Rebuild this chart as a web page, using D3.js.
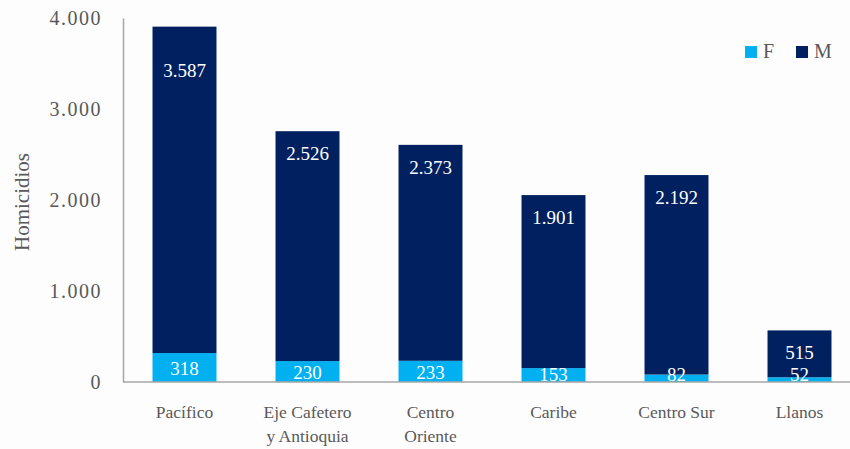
<!DOCTYPE html>
<html>
<head>
<meta charset="utf-8">
<script src="https://cdn.jsdelivr.net/npm/d3@7"></script>
<style>
  html, body { margin: 0; padding: 0; background: #fdfdfd; }
  svg { display: block; }
  text { font-family: "Liberation Serif", "Times New Roman", serif; }
</style>
</head>
<body>
<svg id="chart" width="850" height="449"></svg>
<script>
const categories = ["Pacífico", "Eje Cafetero\ny Antioquia", "Centro\nOriente", "Caribe", "Centro Sur", "Llanos"];
const femValues = [318, 230, 233, 153, 82, 52];
const mascValues = [3587, 2526, 2373, 1901, 2192, 515];
const seriesNames = ["F", "M"];
const yTicks = [0, 1000, 2000, 3000, 4000];

const colors = { F: "#00b0f0", M: "#002060" };
const textColor = "#595959";
const axisColor = "#a6a6a6";

const svg = d3.select("#chart");
const W = 850, H = 449;
const mLeft = 123, mRight = 861, mTop = 18, mBottom = 382;

svg.append("rect").attr("width", W).attr("height", H).attr("fill", "#fdfdfd");

const x = d3.scaleBand().domain(categories).range([mLeft, mRight]).paddingInner(0.48).paddingOuter(0.24);
const y = d3.scaleLinear().domain([0, 4000]).range([mBottom, mTop]);

const fmt = d3.formatLocale({ decimal: ",", thousands: ".", grouping: [3], currency: ["$", ""] }).format(",d");

const data = categories.map((c, i) => ({ cat: c, F: femValues[i], M: mascValues[i] }));
const stack = d3.stack().keys(seriesNames)(data);

// bars
stack.forEach(layer => {
  svg.append("g").selectAll("rect").data(layer).join("rect")
    .attr("x", d => x(d.data.cat))
    .attr("width", x.bandwidth())
    .attr("y", d => y(d[1]))
    .attr("height", d => y(d[0]) - y(d[1]))
    .attr("fill", colors[layer.key]);
});

// data labels
const fLayer = stack[0], mLayer = stack[1];
const maxLabelY = y(3420);
svg.append("g").selectAll("text").data(mLayer).join("text")
  .attr("x", d => x(d.data.cat) + x.bandwidth() / 2)
  .attr("y", d => Math.max(y(d[1]) + 22, maxLabelY))
  .attr("dy", "0.35em")
  .attr("text-anchor", "middle")
  .attr("fill", "#ffffff")
  .attr("font-size", 19)
  .text(d => fmt(d.data.M));

svg.append("g").selectAll("text").data(fLayer).join("text")
  .attr("x", d => x(d.data.cat) + x.bandwidth() / 2)
  .attr("y", d => Math.min((y(d[0]) + y(d[1])) / 2 + 1, mBottom - 8))
  .attr("dy", "0.35em")
  .attr("text-anchor", "middle")
  .attr("fill", "#ffffff")
  .attr("font-size", 19)
  .text(d => fmt(d.data.F));

// y axis
const yAxis = d3.axisLeft(y).tickValues(yTicks).tickSize(0).tickPadding(21).tickFormat(d => fmt(d));
const gy = svg.append("g").attr("transform", `translate(${mLeft},0)`).call(yAxis);
gy.select(".domain").attr("stroke", axisColor).attr("stroke-width", 1.5);
gy.selectAll("text").attr("font-size", 20).attr("fill", textColor).attr("letter-spacing", 1.5);

// x baseline
svg.append("line").attr("x1", mLeft).attr("x2", W).attr("y1", mBottom).attr("y2", mBottom)
  .attr("stroke", axisColor).attr("stroke-width", 1.5);

// x labels
const xl = svg.append("g").selectAll("text").data(categories).join("text")
  .attr("x", d => x(d) + x.bandwidth() / 2)
  .attr("y", 418)
  .attr("text-anchor", "middle")
  .attr("fill", textColor)
  .attr("font-size", 17.5);
xl.each(function(d) {
  const lines = d.split("\n");
  const t = d3.select(this);
  lines.forEach((ln, i) => {
    t.append("tspan").attr("x", x(d) + x.bandwidth() / 2).attr("dy", i === 0 ? 0 : 24).text(ln);
  });
});

// y title
svg.append("text")
  .attr("transform", `translate(29,202) rotate(-90)`)
  .attr("text-anchor", "middle")
  .attr("fill", textColor)
  .attr("font-size", 21)
  .text("Homicidios");

// legend
const legend = svg.append("g");
const legX = [745, 796];
seriesNames.forEach((s, i) => {
  legend.append("rect").attr("x", legX[i]).attr("y", 46).attr("width", 12).attr("height", 12).attr("fill", colors[s]);
  legend.append("text").attr("x", legX[i] + 18).attr("y", 58).attr("fill", textColor).attr("font-size", 20).text(s);
});
</script>
</body>
</html>
